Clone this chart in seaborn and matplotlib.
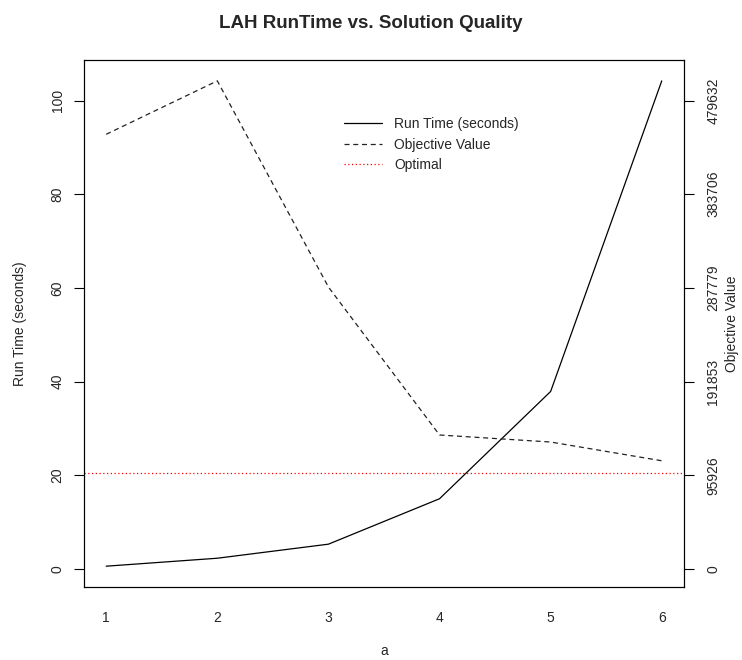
import numpy as np
import pandas as pd
import matplotlib
matplotlib.use("Agg")
import matplotlib.pyplot as plt
import seaborn as sns

# Data
a_values = [1, 2, 3, 4, 5, 6]
run_time = [0.6, 2.3, 5.3, 15.0, 37.9, 104.2]
objective = [445100, 499800, 288700, 137200, 130000, 110800]
optimal = 97800
right_tick_labels = [0, 95926, 191853, 287779, 383706, 479632]
left_ticks = [0, 20, 40, 60, 80, 100]

sns.set_style("white")
plt.rcParams["font.family"] = ["Liberation Sans", "DejaVu Sans"]

df = pd.DataFrame({"a": a_values, "run_time": run_time, "objective": objective})

fig = plt.figure(figsize=(7.42, 6.6), dpi=100)
ax = fig.add_axes([0.1132, 0.1106, 0.8086, 0.7984])

# scale linking the right axis to the left one (100 on the left = 479632 on the right)
scale = right_tick_labels[-1] / left_ticks[-1]

sns.lineplot(data=df, x="a", y="run_time", ax=ax, color="black", lw=0.9,
             label="Run Time (seconds)", legend=False)
df["obj_scaled"] = df["objective"] / scale
sns.lineplot(data=df, x="a", y="obj_scaled", ax=ax, color="#222222", lw=0.9,
             linestyle=(0, (4, 3)), label="Objective Value", legend=False)
ax.axhline(optimal / scale, color="red", lw=0.9, linestyle=(0, (1, 2)), label="Optimal")

lo = min(min(run_time), 0.8)
hi = max(run_time)
pad = (hi - lo) * 0.04
ax.set_ylim(lo - pad - 0.3, hi + pad + 0.3)
ax.set_xlim(0.8, 6.2)
ax.set_xticks(a_values)
ax.set_yticks(left_ticks)
ax.set_yticklabels([str(t) for t in left_ticks], rotation=90, va="center")

ax2 = ax.twinx()
y0, y1 = ax.get_ylim()
ax2.set_ylim(y0 * scale, y1 * scale)
ax2.set_yticks(right_tick_labels)
ax2.set_yticklabels([str(t) for t in right_tick_labels], rotation=90, va="center")

for axis in (ax, ax2):
    for sp in axis.spines.values():
        sp.set_color("black")
        sp.set_linewidth(0.8)
    axis.tick_params(direction="out", length=7, width=0.8, color="black",
                     labelsize=10, pad=7)
ax.tick_params(axis="x", pad=10)
ax2.tick_params(pad=9)

ax.set_xlabel("a", fontsize=10, va="center")
ax.xaxis.set_label_coords(0.5, -0.122)
ax.set_ylabel("Run Time (seconds)", fontsize=10, va="center")
ax.yaxis.set_label_coords(-0.107, 0.5)
ax2.set_ylabel("Objective Value", fontsize=10, va="center")
ax2.yaxis.set_label_coords(1.08, 0.5)

fig.suptitle("LAH RunTime vs. Solution Quality", fontsize=13.5, fontweight="bold", y=0.978)

handles, labels = ax.get_legend_handles_labels()
leg = ax.legend(handles, labels, loc="upper left", bbox_to_anchor=(0.413, 0.915),
                frameon=False, fontsize=10, handlelength=2.7, handletextpad=0.9,
                labelspacing=0.45)

fig.savefig("out.png", dpi=100)
